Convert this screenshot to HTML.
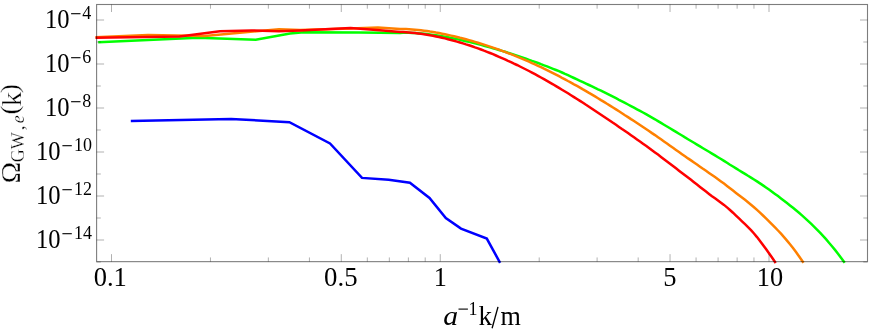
<!DOCTYPE html>
<html><head><meta charset="utf-8"><title>plot</title>
<style>
html,body{margin:0;padding:0;background:#fff;}
svg{display:block;font-family:"Liberation Serif",serif;}
text{fill:#000;}
</style></head><body>
<svg width="872" height="332" viewBox="0 0 872 332">
<rect width="872" height="332" fill="#fff"/>
<clipPath id="c"><rect x="95.1" y="4.5" width="772.4" height="261.15"/></clipPath>
<g clip-path="url(#c)">
<polyline points="130.8,120.9 231.1,119.0 289.4,122.2 330.0,143.5 362.0,177.9 388.7,179.7 409.9,182.7 429.5,197.9 445.8,218.0 461.0,228.6 486.8,238.6 500.1,262.8" fill="none" stroke="#0000ff" stroke-width="2.5" stroke-linejoin="miter" stroke-linecap="butt"/>
<polyline points="98.2,42.3 197.8,37.7 255.7,39.8 290.0,33.6 303.8,32.2 358.8,32.5 400.0,32.9 403.0,32.8 406.0,32.8 409.0,32.8 412.0,32.9 415.0,33.1 418.0,33.3 421.0,33.5 424.0,33.8 427.0,34.1 430.0,34.5 433.0,34.9 436.0,35.3 439.0,35.8 442.0,36.3 445.0,36.8 448.0,37.3 451.0,37.9 454.0,38.5 457.0,39.1 460.0,39.8 463.0,40.5 466.0,41.2 469.0,41.9 472.0,42.6 475.0,43.4 478.0,44.1 481.0,44.9 484.0,45.7 487.0,46.5 490.0,47.4 493.0,48.2 496.0,49.1 499.0,50.0 502.0,50.9 505.0,51.8 508.0,52.8 511.0,53.7 514.0,54.7 517.0,55.7 520.0,56.7 523.0,57.7 526.0,58.7 529.0,59.8 532.0,60.9 535.0,61.9 538.0,63.0 541.0,64.2 544.0,65.3 547.0,66.4 550.0,67.6 553.0,68.8 556.0,70.0 559.0,71.2 562.0,72.5 565.0,73.9 568.0,75.2 571.0,76.6 574.0,78.0 577.0,79.4 580.0,80.8 583.0,82.2 586.0,83.6 589.0,85.0 592.0,86.4 595.0,87.8 598.0,89.3 601.0,90.7 604.0,92.2 607.0,93.7 610.0,95.2 613.0,96.7 616.0,98.2 619.0,99.8 622.0,101.3 625.0,102.9 628.0,104.5 631.0,106.1 634.0,107.7 637.0,109.3 640.0,110.9 643.0,112.5 646.0,114.2 649.0,115.9 652.0,117.6 655.0,119.3 658.0,121.1 661.0,122.9 664.0,124.7 667.0,126.5 670.0,128.3 673.0,130.1 676.0,131.9 679.0,133.7 682.0,135.5 685.0,137.4 688.0,139.2 691.0,141.0 694.0,142.8 697.0,144.6 700.0,146.4 703.0,148.2 706.0,150.0 709.0,151.8 712.0,153.6 715.0,155.4 718.0,157.2 721.0,159.0 724.0,160.9 727.0,162.8 730.0,164.7 733.0,166.5 736.0,168.4 739.0,170.3 742.0,172.1 745.0,173.9 748.0,175.8 751.0,177.6 754.0,179.5 757.0,181.4 760.0,183.4 763.0,185.4 766.0,187.5 769.0,189.6 772.0,191.8 775.0,193.9 778.0,196.1 781.0,198.4 784.0,200.7 787.0,203.0 790.0,205.4 793.0,207.8 796.0,210.3 799.0,212.8 802.0,215.4 805.0,218.1 808.0,220.9 811.0,223.7 814.0,226.6 817.0,229.6 820.0,232.7 823.0,235.9 826.0,239.2 829.0,242.7 832.0,246.2 835.0,249.9 838.0,253.7 841.0,257.7 844.7,262.8" fill="none" stroke="#00ff00" stroke-width="2.5" stroke-linejoin="miter" stroke-linecap="butt"/>
<polyline points="95.5,37.2 148.0,35.1 204.8,35.9 279.0,29.2 300.0,30.1 351.0,28.6 378.0,27.4 400.0,28.9 403.0,28.9 406.0,29.0 409.0,29.2 412.0,29.4 415.0,29.7 418.0,30.0 421.0,30.3 424.0,30.7 427.0,31.1 430.0,31.6 433.0,32.0 436.0,32.6 439.0,33.1 442.0,33.7 445.0,34.3 448.0,34.9 451.0,35.6 454.0,36.3 457.0,37.0 460.0,37.8 463.0,38.5 466.0,39.3 469.0,40.1 472.0,41.0 475.0,41.9 478.0,42.8 481.0,43.7 484.0,44.6 487.0,45.6 490.0,46.6 493.0,47.6 496.0,48.6 499.0,49.7 502.0,50.8 505.0,51.9 508.0,53.1 511.0,54.2 514.0,55.4 517.0,56.6 520.0,57.9 523.0,59.1 526.0,60.4 529.0,61.7 532.0,63.1 535.0,64.4 538.0,65.8 541.0,67.2 544.0,68.7 547.0,70.1 550.0,71.6 553.0,73.1 556.0,74.6 559.0,76.2 562.0,77.8 565.0,79.3 568.0,81.0 571.0,82.6 574.0,84.3 577.0,85.9 580.0,87.6 583.0,89.4 586.0,91.1 589.0,92.9 592.0,94.6 595.0,96.4 598.0,98.2 601.0,100.1 604.0,101.9 607.0,103.8 610.0,105.6 613.0,107.5 616.0,109.4 619.0,111.3 622.0,113.2 625.0,115.2 628.0,117.1 631.0,119.1 634.0,121.0 637.0,123.0 640.0,125.0 643.0,127.0 646.0,129.0 649.0,131.0 652.0,133.1 655.0,135.1 658.0,137.2 661.0,139.3 664.0,141.4 667.0,143.5 670.0,145.7 673.0,147.8 676.0,149.9 679.0,152.0 682.0,154.2 685.0,156.3 688.0,158.4 691.0,160.4 694.0,162.5 697.0,164.6 700.0,166.7 703.0,168.8 706.0,170.8 709.0,172.9 712.0,175.0 715.0,177.1 718.0,179.2 721.0,181.4 724.0,183.6 727.0,185.9 730.0,188.2 733.0,190.6 736.0,192.9 739.0,195.2 742.0,197.5 745.0,199.8 748.0,202.2 751.0,204.7 754.0,207.2 757.0,209.9 760.0,212.7 763.0,215.5 766.0,218.4 769.0,221.3 772.0,224.4 775.0,227.4 778.0,230.5 781.0,233.7 784.0,237.1 787.0,240.6 790.0,244.3 793.0,248.1 796.0,252.1 799.0,256.3 803.5,262.8" fill="none" stroke="#ff8000" stroke-width="2.5" stroke-linejoin="miter" stroke-linecap="butt"/>
<polyline points="95.5,37.8 179.5,36.6 219.9,31.2 251.6,30.4 279.0,31.2 300.0,30.4 350.5,28.1 383.0,30.6 400.0,31.9 403.0,32.0 406.0,32.2 409.0,32.4 412.0,32.7 415.0,33.0 418.0,33.4 421.0,33.8 424.0,34.2 427.0,34.7 430.0,35.2 433.0,35.8 436.0,36.4 439.0,37.0 442.0,37.7 445.0,38.4 448.0,39.2 451.0,40.0 454.0,40.8 457.0,41.6 460.0,42.5 463.0,43.4 466.0,44.4 469.0,45.3 472.0,46.3 475.0,47.4 478.0,48.4 481.0,49.5 484.0,50.7 487.0,51.8 490.0,53.0 493.0,54.2 496.0,55.5 499.0,56.8 502.0,58.1 505.0,59.4 508.0,60.8 511.0,62.1 514.0,63.6 517.0,65.0 520.0,66.5 523.0,68.0 526.0,69.5 529.0,71.0 532.0,72.6 535.0,74.2 538.0,75.8 541.0,77.5 544.0,79.2 547.0,80.9 550.0,82.6 553.0,84.3 556.0,86.1 559.0,87.9 562.0,89.7 565.0,91.5 568.0,93.3 571.0,95.2 574.0,97.1 577.0,99.0 580.0,100.9 583.0,102.8 586.0,104.8 589.0,106.7 592.0,108.7 595.0,110.7 598.0,112.7 601.0,114.7 604.0,116.7 607.0,118.7 610.0,120.7 613.0,122.8 616.0,124.8 619.0,126.9 622.0,129.0 625.0,131.0 628.0,133.1 631.0,135.2 634.0,137.3 637.0,139.4 640.0,141.5 643.0,143.7 646.0,145.8 649.0,148.0 652.0,150.2 655.0,152.4 658.0,154.6 661.0,156.9 664.0,159.2 667.0,161.4 670.0,163.7 673.0,166.0 676.0,168.3 679.0,170.7 682.0,173.0 685.0,175.3 688.0,177.6 691.0,179.8 694.0,182.2 697.0,184.5 700.0,186.9 703.0,189.3 706.0,191.6 709.0,193.9 712.0,196.2 715.0,198.3 718.0,200.5 721.0,202.7 724.0,204.9 727.0,207.4 730.0,210.0 733.0,212.7 736.0,215.6 739.0,218.4 742.0,221.3 745.0,224.2 748.0,227.1 751.0,230.2 754.0,233.5 757.0,237.1 760.0,240.9 763.0,244.9 766.0,249.0 769.0,253.2 772.0,257.5 775.7,263.0" fill="none" stroke="#ff0000" stroke-width="2.5" stroke-linejoin="miter" stroke-linecap="butt"/>
</g>
<g stroke="#000000" stroke-opacity="0.56" stroke-width="0.55" fill="none">
<line x1="111.50" y1="261.65" x2="111.50" y2="254.14999999999998"/>
<line x1="111.50" y1="4.5" x2="111.50" y2="12.0"/>
<line x1="210.46" y1="261.65" x2="210.46" y2="257.45"/>
<line x1="210.46" y1="4.5" x2="210.46" y2="8.7"/>
<line x1="268.35" y1="261.65" x2="268.35" y2="257.45"/>
<line x1="268.35" y1="4.5" x2="268.35" y2="8.7"/>
<line x1="309.43" y1="261.65" x2="309.43" y2="257.45"/>
<line x1="309.43" y1="4.5" x2="309.43" y2="8.7"/>
<line x1="341.29" y1="261.65" x2="341.29" y2="254.14999999999998"/>
<line x1="341.29" y1="4.5" x2="341.29" y2="12.0"/>
<line x1="367.32" y1="261.65" x2="367.32" y2="257.45"/>
<line x1="367.32" y1="4.5" x2="367.32" y2="8.7"/>
<line x1="389.33" y1="261.65" x2="389.33" y2="257.45"/>
<line x1="389.33" y1="4.5" x2="389.33" y2="8.7"/>
<line x1="408.39" y1="261.65" x2="408.39" y2="257.45"/>
<line x1="408.39" y1="4.5" x2="408.39" y2="8.7"/>
<line x1="425.21" y1="261.65" x2="425.21" y2="257.45"/>
<line x1="425.21" y1="4.5" x2="425.21" y2="8.7"/>
<line x1="440.25" y1="261.65" x2="440.25" y2="254.14999999999998"/>
<line x1="440.25" y1="4.5" x2="440.25" y2="12.0"/>
<line x1="539.21" y1="261.65" x2="539.21" y2="257.45"/>
<line x1="539.21" y1="4.5" x2="539.21" y2="8.7"/>
<line x1="597.10" y1="261.65" x2="597.10" y2="257.45"/>
<line x1="597.10" y1="4.5" x2="597.10" y2="8.7"/>
<line x1="638.18" y1="261.65" x2="638.18" y2="257.45"/>
<line x1="638.18" y1="4.5" x2="638.18" y2="8.7"/>
<line x1="670.04" y1="261.65" x2="670.04" y2="254.14999999999998"/>
<line x1="670.04" y1="4.5" x2="670.04" y2="12.0"/>
<line x1="696.07" y1="261.65" x2="696.07" y2="257.45"/>
<line x1="696.07" y1="4.5" x2="696.07" y2="8.7"/>
<line x1="718.08" y1="261.65" x2="718.08" y2="257.45"/>
<line x1="718.08" y1="4.5" x2="718.08" y2="8.7"/>
<line x1="737.14" y1="261.65" x2="737.14" y2="257.45"/>
<line x1="737.14" y1="4.5" x2="737.14" y2="8.7"/>
<line x1="753.96" y1="261.65" x2="753.96" y2="257.45"/>
<line x1="753.96" y1="4.5" x2="753.96" y2="8.7"/>
<line x1="769.00" y1="261.65" x2="769.00" y2="254.14999999999998"/>
<line x1="769.00" y1="4.5" x2="769.00" y2="12.0"/>
<line x1="96.6" y1="262.00" x2="100.8" y2="262.00"/>
<line x1="867.5" y1="262.00" x2="863.3" y2="262.00"/>
<line x1="96.6" y1="240.00" x2="104.1" y2="240.00"/>
<line x1="867.5" y1="240.00" x2="860.0" y2="240.00"/>
<line x1="96.6" y1="218.00" x2="100.8" y2="218.00"/>
<line x1="867.5" y1="218.00" x2="863.3" y2="218.00"/>
<line x1="96.6" y1="196.00" x2="104.1" y2="196.00"/>
<line x1="867.5" y1="196.00" x2="860.0" y2="196.00"/>
<line x1="96.6" y1="174.00" x2="100.8" y2="174.00"/>
<line x1="867.5" y1="174.00" x2="863.3" y2="174.00"/>
<line x1="96.6" y1="152.00" x2="104.1" y2="152.00"/>
<line x1="867.5" y1="152.00" x2="860.0" y2="152.00"/>
<line x1="96.6" y1="130.00" x2="100.8" y2="130.00"/>
<line x1="867.5" y1="130.00" x2="863.3" y2="130.00"/>
<line x1="96.6" y1="108.00" x2="104.1" y2="108.00"/>
<line x1="867.5" y1="108.00" x2="860.0" y2="108.00"/>
<line x1="96.6" y1="86.00" x2="100.8" y2="86.00"/>
<line x1="867.5" y1="86.00" x2="863.3" y2="86.00"/>
<line x1="96.6" y1="64.00" x2="104.1" y2="64.00"/>
<line x1="867.5" y1="64.00" x2="860.0" y2="64.00"/>
<line x1="96.6" y1="42.00" x2="100.8" y2="42.00"/>
<line x1="867.5" y1="42.00" x2="863.3" y2="42.00"/>
<line x1="96.6" y1="20.00" x2="104.1" y2="20.00"/>
<line x1="867.5" y1="20.00" x2="860.0" y2="20.00"/>
</g>
<rect x="96.6" y="4.5" width="770.9" height="257.15" fill="none" stroke="#000" stroke-opacity="0.51" stroke-width="1.1"/>
<g style="filter:grayscale(1)">
<text transform="translate(91.35,18.65) scale(1.0,1)" text-anchor="end" font-size="18.0">4</text>
<rect x="71.10" y="13.15" width="9.40" height="1.1" fill="#000"/>
<text transform="translate(69.60,28.20) scale(0.91,1)" text-anchor="end" font-size="27">10</text>
<text transform="translate(91.35,62.65) scale(1.0,1)" text-anchor="end" font-size="18.0">6</text>
<rect x="71.10" y="57.15" width="9.40" height="1.1" fill="#000"/>
<text transform="translate(69.60,72.20) scale(0.91,1)" text-anchor="end" font-size="27">10</text>
<text transform="translate(91.35,106.65) scale(1.0,1)" text-anchor="end" font-size="18.0">8</text>
<rect x="71.10" y="101.15" width="9.40" height="1.1" fill="#000"/>
<text transform="translate(69.60,116.20) scale(0.91,1)" text-anchor="end" font-size="27">10</text>
<text transform="translate(92.10,150.65) scale(1.0,1)" text-anchor="end" font-size="18.0">10</text>
<rect x="62.40" y="145.15" width="9.40" height="1.1" fill="#000"/>
<text transform="translate(60.60,160.20) scale(0.91,1)" text-anchor="end" font-size="27">10</text>
<text transform="translate(92.10,194.65) scale(1.0,1)" text-anchor="end" font-size="18.0">12</text>
<rect x="62.40" y="189.15" width="9.40" height="1.1" fill="#000"/>
<text transform="translate(60.60,204.20) scale(0.91,1)" text-anchor="end" font-size="27">10</text>
<text transform="translate(92.10,238.65) scale(1.0,1)" text-anchor="end" font-size="18.0">14</text>
<rect x="62.40" y="233.15" width="9.40" height="1.1" fill="#000"/>
<text transform="translate(60.60,248.20) scale(0.91,1)" text-anchor="end" font-size="27">10</text>
<text transform="translate(110.30,285.90) scale(0.96,1)" text-anchor="middle" font-size="27.6">0.1</text>
<text transform="translate(340.80,285.90) scale(0.97,1)" text-anchor="middle" font-size="27.6">0.5</text>
<text transform="translate(440.25,285.90) scale(0.95,1)" text-anchor="middle" font-size="27.6">1</text>
<text transform="translate(669.85,285.90) scale(0.96,1)" text-anchor="middle" font-size="27.6">5</text>
<text transform="translate(769.90,285.90) scale(0.955,1)" text-anchor="middle" font-size="27.6">10</text>
<text transform="translate(443.30,325.00) scale(1.1,1)" text-anchor="start" font-size="27"><tspan font-style="italic">a</tspan></text><rect x="458.50" y="308.55" width="9.40" height="1.1" fill="#000"/><text transform="translate(477.60,314.70) scale(1.0,1)" text-anchor="end" font-size="18.0">1</text><text transform="translate(478.60,325.00) scale(1.0,1)" text-anchor="start" font-size="27">k</text><line x1="492.1" y1="328.2" x2="498.0" y2="306.9" stroke="#000" stroke-width="1.35"/><text transform="translate(500.40,325.00) scale(0.97,1)" text-anchor="start" font-size="27">m</text>
<g transform="translate(20.5,181.9) rotate(-90)" stroke="#fff" stroke-width="0.3" paint-order="fill stroke"><text transform="translate(-1.70,-0.50) scale(1.08,1)" font-size="27">Ω</text><text transform="translate(19.60,3.10) scale(1.0,1)" font-size="18.0">GW</text><text transform="translate(51.30,3.60) scale(1.2,1)" font-size="18.0">,</text><text transform="translate(58.60,3.60) scale(1.0,1)" font-size="18.0" font-style="italic">e</text><text transform="translate(67.40,-2.20) scale(1.05,1)" font-size="25.5">(</text><text transform="translate(75.70,0.00) scale(1.06,1)" font-size="27">k</text><text transform="translate(88.90,-2.20) scale(1.05,1)" font-size="25.5">)</text></g>
</g>
</svg>
</body></html>
